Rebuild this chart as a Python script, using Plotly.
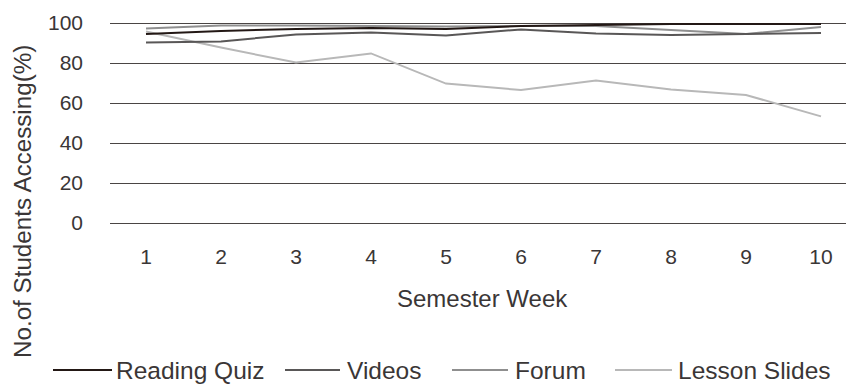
import plotly.graph_objects as go

# Weekly access rates (% of students) per course resource
weeks = [1, 2, 3, 4, 5, 6, 7, 8, 9, 10]
week_labels = ["1", "2", "3", "4", "5", "6", "7", "8", "9", "10"]
reading_quiz = [94.5, 96.0, 97.0, 97.5, 97.0, 98.5, 99.0, 99.5, 99.5, 99.5]
videos = [90.2, 90.8, 94.3, 95.3, 93.7, 96.8, 94.8, 94.0, 94.5, 95.0]
forum = [97.2, 98.8, 98.8, 98.5, 98.2, 98.5, 98.5, 96.5, 94.5, 98.0]
lesson_slides = [95.7, 87.7, 80.2, 84.8, 69.7, 66.5, 71.2, 66.8, 64.0, 53.3]
y_ticks = [0, 20, 40, 60, 80, 100]

series = [
    ("Reading Quiz", reading_quiz, "#231815"),
    ("Videos", videos, "#595757"),
    ("Forum", forum, "#8f8f8f"),
    ("Lesson Slides", lesson_slides, "#b8b8b8"),
]

FONT = "Liberation Sans"
TEXT = "#3a3636"
W, H = 846, 385
L, R, T, B = 110, 0, 21, 160

fig = go.Figure()
for name, vals, col in reversed(series):
    fig.add_trace(go.Scatter(x=weeks, y=vals, mode="lines", name=name,
                             line=dict(color=col, width=2), showlegend=False))


def px_x(px):
    return (px - L) / (W - L - R)


def px_y(py):
    return (H - B - py) / (H - T - B)


# Legend drawn as line samples with labels underneath the axis
legend_items = [
    ("Reading Quiz", "#231815", 53, 112, 114),
    ("Videos", "#595757", 285, 340, 345),
    ("Forum", "#8f8f8f", 452, 508, 513),
    ("Lesson Slides", "#b8b8b8", 615, 672, 676),
]
shapes = []
annotations = []
for name, col, x0, x1, tx in legend_items:
    shapes.append(dict(type="line", xref="paper", yref="paper",
                       x0=px_x(x0), x1=px_x(x1), y0=px_y(370), y1=px_y(370),
                       line=dict(color=col, width=2)))
    annotations.append(dict(text=name, xref="paper", yref="paper",
                            x=px_x(tx), y=px_y(370), xanchor="left", yanchor="middle",
                            showarrow=False, font=dict(family=FONT, size=24.5, color=TEXT)))

annotations.append(dict(text="Semester Week", xref="paper", yref="paper",
                        x=px_x(482), y=px_y(298), xanchor="center", yanchor="middle",
                        showarrow=False, font=dict(family=FONT, size=24, color=TEXT)))
annotations.append(dict(text="No.of Students Accessing(%)", xref="paper", yref="paper",
                        x=px_x(22), y=px_y(202), xanchor="center", yanchor="middle",
                        textangle=-90, showarrow=False,
                        font=dict(family=FONT, size=24.2, color=TEXT)))

fig.update_layout(
    width=W, height=H,
    margin=dict(l=L, r=R, t=T, b=B, pad=0),
    paper_bgcolor="white", plot_bgcolor="white",
    font=dict(family=FONT, size=21, color=TEXT),
    shapes=shapes, annotations=annotations,
    showlegend=False,
)
fig.update_xaxes(range=[1 - 36 / 75, 1 + (W - 146) / 75], tickvals=weeks, ticktext=week_labels,
                 showgrid=False, zeroline=False, showline=False, ticks="",
                 ticklabelstandoff=17, tickfont=dict(family=FONT, size=21, color=TEXT))
fig.update_yaxes(range=[-1, 101], tickvals=y_ticks, showgrid=True, gridcolor="#4a4544",
                 gridwidth=1.2, zeroline=False, showline=False, ticks="",
                 ticklabelstandoff=26, tickfont=dict(family=FONT, size=21, color=TEXT))

fig.write_html("out.html")
